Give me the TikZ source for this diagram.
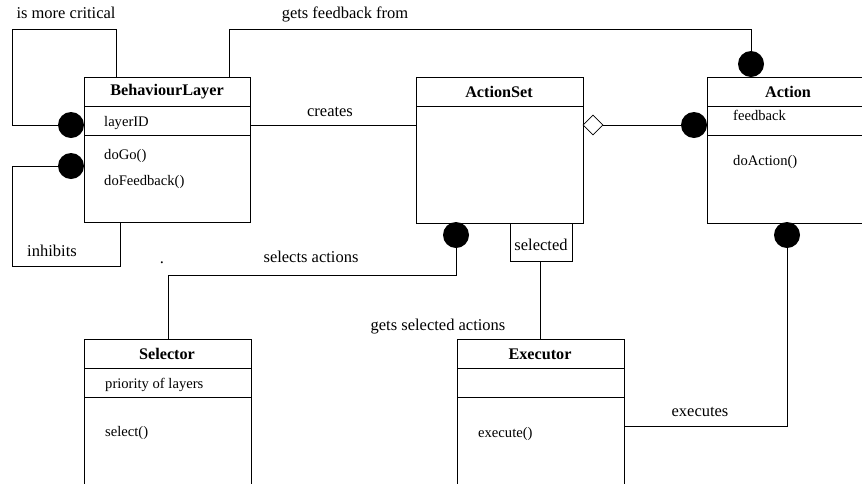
\documentclass[tikz,border=0pt]{standalone}
\usepackage{fontspec}
\setmainfont{Liberation Serif}
\usetikzlibrary{shapes.geometric}
\begin{document}
\begin{tikzpicture}[x=1pt,y=-1pt,
 cls/.style={draw, line width=0.8pt, rectangle, inner sep=0, anchor=north west},
 ttl/.style={font=\fontsize{16.2}{18}\selectfont\bfseries, inner sep=0},
 body/.style={font=\fontsize{14.6}{16}\selectfont, anchor=west, inner sep=0, text height=0.7em, text depth=0.2em, yshift=-2pt},
 lbl/.style={font=\fontsize{16.5}{18}\selectfont, inner sep=0, text height=0.7em, text depth=0.2em, yshift=-2pt},
 ln/.style={line width=0.8pt},
 ball/.style={circle, fill=black, minimum size=26pt, inner sep=0},
]
\useasboundingbox (0,0) rectangle (862,483);
\clip (0,0) rectangle (862,483);

% classes
\node[cls, minimum width=166pt, minimum height=145pt] (bl) at (84,77) {};
\draw[ln] ([yshift=-29pt]bl.north west) -- ([yshift=-29pt]bl.north east);
\draw[ln] ([yshift=-58pt]bl.north west) -- ([yshift=-58pt]bl.north east);
\node[ttl] (blt) at (167,92) {BehaviourLayer};
\node[body] (bla) at (104,122) {layerID};
\node[body] (blm1) at (104,155) {doGo()};
\node[body] (blm2) at (104,181) {doFeedback()};

\node[cls, minimum width=167pt, minimum height=146pt] (as) at (416,77) {};
\draw[ln] ([yshift=-29pt]as.north west) -- ([yshift=-29pt]as.north east);
\node[ttl] (ast) at (499,92) {ActionSet};

\node[cls, minimum width=162pt, minimum height=146pt] (ac) at (707,77) {};
\draw[ln] ([yshift=-29pt]ac.north west) -- ([yshift=-29pt]ac.north east);
\draw[ln] ([yshift=-58pt]ac.north west) -- ([yshift=-58pt]ac.north east);
\node[ttl] (act) at (788,92) {Action};
\node[body] (aca) at (733,116) {feedback};
\node[body] (acm) at (733,161) {doAction()};

\node[cls, minimum width=167pt, minimum height=170pt] (se) at (84,339) {};
\draw[ln] ([yshift=-29pt]se.north west) -- ([yshift=-29pt]se.north east);
\draw[ln] ([yshift=-58pt]se.north west) -- ([yshift=-58pt]se.north east);
\node[ttl] (set) at (167,354) {Selector};
\node[body] (sea) at (105,384) {priority of layers};
\node[body] (sem) at (105,432) {select()};

\node[cls, minimum width=167pt, minimum height=170pt] (ex) at (457,339) {};
\draw[ln] ([yshift=-29pt]ex.north west) -- ([yshift=-29pt]ex.north east);
\draw[ln] ([yshift=-58pt]ex.north west) -- ([yshift=-58pt]ex.north east);
\node[ttl] (ext) at (540,354) {Executor};
\node[body] (exm) at (478,433) {execute()};

% qualifier box
\node[cls, minimum width=62pt, minimum height=38pt] (sel) at (510,223) {};
\node[lbl] (selt) at (541,246) {selected};

% balls
\node[ball] (d1) at (71,125) {};
\node[ball] (d2) at (71,166) {};
\node[ball] (d3) at (751,64) {};
\node[ball] (d4) at (694,125) {};
\node[ball] (d5) at (456,235) {};
\node[ball] (d6) at (787,235) {};
\node[draw, line width=0.8pt, fill=white, shape=diamond, inner sep=0, minimum width=20pt, minimum height=20pt] (dia) at (593,125) {};

% connectors
\draw[ln] (bl.north west) ++(32,0) coordinate (c1a) |- (12,29) |- (d1.west);
\draw[ln] (d2.west) -- (12,166) |- (120,266) -- (120,222);
\draw[ln] (229,77) |- (751,29) -- (d3.north);
\draw[ln] (250,125) -- (416,125);
\draw[ln] (dia.east) -- (d4.west);
\draw[ln] (d5.south) -- (456,275) -| (se.north);
\draw[ln] (540,261) -- (540,339);
\draw[ln] (d6.south) -- (787,426) -- (624,426);

% labels
\node[lbl] (l1) at (66,14) {is more critical};
\node[lbl] (l2) at (345,14) {gets feedback from};
\node[lbl] (l3) at (330,112) {creates};
\node[lbl] (l4) at (52,252) {inhibits};
\node[lbl] (l5) at (311,258) {selects actions};
\node[lbl] (l6) at (438,326) {gets selected actions};
\node[lbl] (l7) at (700,412) {executes};
\node[lbl] (l8) at (162,259) {.};
\end{tikzpicture}
\end{document}
